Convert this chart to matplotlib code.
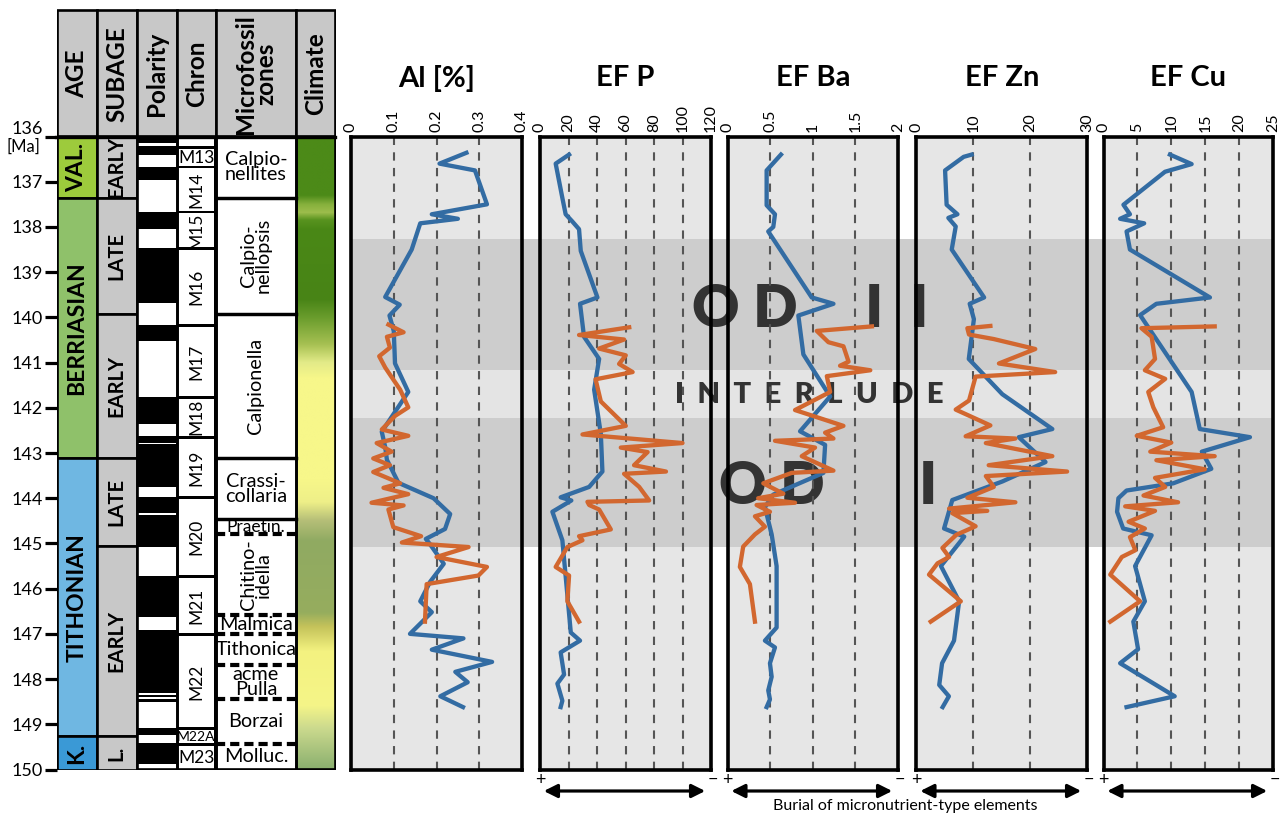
import matplotlib
matplotlib.use('Agg')
import matplotlib.pyplot as plt
import numpy as np
from matplotlib.patches import Rectangle, FancyArrowPatch
from matplotlib.colors import to_rgb

plt.rcParams['font.family'] = ['Lato', 'DejaVu Sans']

# ---------------- data ----------------
age_names = ['VAL.', 'BERRIASIAN', 'TITHONIAN', 'K.']
age_bounds = [136.0, 137.35, 143.12, 149.27, 150.0]
age_colors = ['#9dcb3c', '#8fc16a', '#6fb7e2', '#3a99d6']

subage_names = ['EARLY', 'LATE', 'EARLY', 'LATE', 'EARLY', 'L.']
subage_bounds = [136.0, 137.35, 139.93, 143.12, 145.06, 149.27, 150.0]

polarity_black_top = [136.06, 136.22, 136.67, 137.66, 138.47, 140.17, 141.76, 142.63, 142.81, 143.97,
                      144.37, 145.72, 146.92, 148.356, 148.45, 149.09, 149.42]
polarity_black_bot = [136.14, 136.41, 136.96, 138.05, 139.68, 140.52, 142.35, 142.78, 143.76, 144.33,
                      145.07, 146.62, 148.305, 148.393, 148.504, 149.24, 149.87]

chron_names = ['', 'M13', 'M14', 'M15', 'M16', 'M17', 'M18', 'M19', 'M20', 'M21', 'M22', 'M22A', 'M23']
chron_top = [136.05, 136.28, 136.70, 137.70, 138.52, 140.22, 141.80, 142.68, 144.02, 145.77, 147.05, 149.13, 149.48]
chron_bot = [136.20, 136.66, 137.64, 138.45, 140.15, 141.74, 142.62, 143.96, 145.70, 146.98, 149.07, 149.42, 150.0]
chron_rot = [0, 0, 90, 90, 90, 90, 90, 90, 90, 90, 90, 0, 0]

zone_names = ['Calpio-\nnellites', 'Calpio-\nnellopsis', 'Calpionella', 'Crassi-\ncollaria', 'Praetin.',
              'Chitino-\nidella', 'Malmica', 'Tithonica', 'acme\nPulla', 'Borzai', 'Molluc.']
zone_bounds = [136.0, 137.35, 139.93, 143.12, 144.47, 144.80, 146.58, 147.0, 147.68, 148.43, 149.44, 150.0]
zone_rot = [0, 90, 90, 0, 0, 90, 0, 0, 0, 0, 0]
zone_dashed = [144.80, 146.58, 147.0, 147.68, 148.43, 149.44]

climate_ma = [136.0, 137.3, 137.5, 137.68, 137.85, 138.05, 139.6, 140.0, 140.6, 141.0, 141.35,
              143.6, 144.1, 144.5, 144.95, 146.55, 146.85, 147.4, 148.6, 149.1, 150.0]
climate_col = ['#4c8a18', '#4c8a18', '#86b03c', '#9dbd4c', '#58931f', '#4a8816', '#488416', '#699c2c',
               '#a6c052', '#e2ea88', '#f7f78a', '#f7f78a', '#eeef88', '#b6bf78', '#90aa62', '#96ad5e',
               '#c4c25a', '#f3f280', '#f5f588', '#ccda8e', '#8bb06f']

od_bands = [(138.27, 141.17), (142.22, 145.07)]
interlude_band = (141.17, 142.22)

al_blue_ma = [136.36, 136.6, 136.75, 137.5, 137.72, 137.82, 137.92, 138.5, 139.55, 139.72, 139.96, 140.3,
              141.02, 141.65, 142.53, 142.87, 143.15, 143.66, 144.0, 144.35, 144.68, 144.9, 145.02,
              145.45, 145.85, 146.28, 146.52, 147.0, 147.1, 147.35, 147.62, 147.84, 148.07, 148.38, 148.62]
al_blue_val = [0.27, 0.207, 0.29, 0.318, 0.189, 0.25, 0.162, 0.142, 0.08, 0.114, 0.09, 0.1,
               0.103, 0.134, 0.072, 0.08, 0.084, 0.111, 0.193, 0.232, 0.22, 0.175, 0.185,
               0.217, 0.185, 0.162, 0.189, 0.138, 0.263, 0.189, 0.33, 0.244, 0.273, 0.209, 0.262]
al_or_ma = [140.16, 140.33, 140.43, 140.67, 140.86, 141.11, 141.6, 141.99, 142.18, 142.48, 142.62, 142.78,
            142.97, 143.12, 143.27, 143.42, 143.67, 143.77, 143.91, 144.1, 144.16, 144.25, 144.64, 144.84,
            144.98, 145.08, 145.3, 145.52, 145.71, 145.9, 146.73]
al_or_val = [0.0875, 0.123, 0.084, 0.091, 0.066, 0.08, 0.115, 0.134, 0.103, 0.072, 0.134, 0.06,
             0.095, 0.052, 0.091, 0.052, 0.115, 0.076, 0.134, 0.048, 0.123, 0.0875, 0.099, 0.164,
             0.119, 0.275, 0.2, 0.318, 0.298, 0.177, 0.173]

p_blue_ma = [136.4, 136.6, 137.36, 137.72, 137.88, 138.05, 138.53, 139.56, 139.7, 140.43, 140.92, 141.6,
             142.58, 143.41, 143.75, 143.98, 144.05, 144.3, 144.93, 146.97, 147.15, 147.41, 147.9, 148.1,
             148.48, 148.62]
p_blue_val = [20.4, 11, 15.7, 18, 22.7, 27.4, 28.6, 40.3, 28.1, 30.9, 41.5, 38,
              42.7, 43.8, 34.5, 14.5, 22, 8.7, 15.7, 21.6, 28.1, 14.5, 16.9, 12.2,
              15.7, 14.5]
p_or_ma = [140.22, 140.39, 140.49, 140.69, 140.84, 141.03, 141.21, 141.37, 141.86, 142.4, 142.59, 142.78,
           142.88, 142.98, 143.27, 143.41, 143.46, 143.75, 144.05, 144.08, 144.15, 144.25, 144.69, 144.84,
           144.93, 145.08, 145.52, 145.71, 146.28, 146.73]
p_or_val = [62.6, 27.4, 59, 41.5, 60.2, 55.5, 65, 39, 42.7, 60.2, 29.8, 100,
            56.7, 75.5, 66, 88.4, 59, 69.6, 76.6, 33.3, 34.5, 41.5, 49.7, 27.4,
            29.8, 19.2, 11, 20.4, 19.2, 27.4]

ba_blue_ma = [136.4, 136.75, 137.52, 137.72, 138.0, 138.1, 139.56, 139.7, 139.96, 140.82, 141.75, 142.52,
              142.82, 143.44, 143.92, 144.2, 144.8, 145.5, 146.86, 147.15, 147.3, 147.65, 147.95, 148.25,
              148.45, 148.62]
ba_blue_val = [0.627, 0.459, 0.459, 0.557, 0.537, 0.478, 0.988, 1.243, 0.831, 0.89, 1.204, 0.851,
               1.145, 1.125, 0.537, 0.439, 0.518, 0.576, 0.576, 0.439, 0.557, 0.498, 0.518, 0.478,
               0.498, 0.459]
ba_or_ma = [140.2, 140.3, 140.55, 140.64, 140.98, 141.07, 141.17, 141.3, 141.65, 142.05, 142.4, 142.55,
            142.68, 142.73, 142.88, 143.07, 143.39, 143.44, 143.67, 143.9, 144.0, 144.1, 144.15, 144.3,
            144.4, 144.63, 144.8, 145.07, 145.52, 145.9, 146.73]
ba_or_val = [1.694, 1.047, 1.184, 1.36, 1.42, 1.32, 1.675, 1.165, 1.204, 0.792, 1.36, 1.145,
             1.243, 0.557, 1.027, 0.871, 1.243, 0.753, 0.42, 0.655, 0.36, 0.792, 0.341, 0.498,
             0.322, 0.439, 0.322, 0.184, 0.145, 0.263, 0.322]

zn_blue_ma = [136.4, 136.45, 136.75, 137.51, 137.72, 137.8, 137.99, 138.5, 139.56, 139.7, 140.04, 140.92,
              141.7, 142.47, 142.65, 143.2, 143.63, 144.04, 144.67, 144.85, 145.5, 146.28, 147.15, 147.65,
              148.13, 148.38, 148.62]
zn_blue_val = [9.7, 8.3, 5.03, 5.3, 7.2, 5.6, 6.9, 6.2, 11.9, 9.36, 10.1, 9.2,
               15.1, 23.9, 18.0, 22.7, 15.1, 6.3, 4.85, 8.4, 4.3, 7.5, 6.6, 4.5,
               4.0, 5.7, 4.6]
zn_or_ma = [140.19, 140.24, 140.38, 140.48, 140.7, 141.02, 141.21, 141.31, 141.84, 142.04, 142.39, 142.63,
            142.68, 142.78, 143.07, 143.27, 143.41, 143.51, 143.75, 143.99, 144.09, 144.23, 144.28, 144.33,
            144.62, 144.81, 145.1, 145.3, 145.44, 145.69, 146.28, 146.73]
zn_or_val = [13.0, 8.95, 9.24, 13.6, 20.9, 14.5, 24.4, 10.4, 9.24, 6.9, 13.0, 8.65,
             17.4, 12.2, 23.9, 12.7, 26.5, 12.2, 13.6, 8.95, 17.4, 5.73, 12.45, 6.3,
             10.4, 7.0, 4.56, 5.73, 3.7, 2.2, 7.8, 2.5]

cu_blue_ma = [136.4, 136.61, 136.78, 137.51, 137.72, 137.82, 137.92, 138.1, 138.5, 139.56, 139.7, 139.95,
              141.65, 142.47, 142.65, 142.97, 143.35, 143.67, 143.83, 144.0, 144.3, 144.67, 144.82, 145.5,
              146.28, 146.73, 147.34, 147.65, 148.38, 148.62]
cu_blue_val = [9.8, 13.0, 9.07, 2.94, 3.9, 2.45, 6.0, 3.4, 3.9, 15.7, 7.8, 5.4,
               13.0, 14.2, 21.6, 14.5, 15.9, 10.3, 3.4, 2.2, 2.0, 2.9, 7.1, 4.66,
               6.1, 4.4, 5.1, 2.45, 10.5, 3.4]
cu_or_ma = [140.2, 140.24, 140.43, 140.92, 141.17, 141.36, 141.65, 141.99, 142.43, 142.62, 142.77, 142.97,
            143.07, 143.16, 143.36, 143.55, 143.75, 143.94, 144.09, 144.18, 144.28, 144.52, 144.67, 144.86,
            145.15, 145.3, 145.69, 146.28, 146.73]
cu_or_val = [16.4, 5.6, 7.1, 7.6, 6.1, 9.1, 6.6, 7.35, 8.8, 4.9, 10.0, 6.9,
             16.4, 7.8, 14.95, 7.6, 9.1, 5.9, 11.0, 3.2, 7.6, 3.7, 6.1, 3.9,
             4.7, 2.7, 1.0, 5.4, 1.0]

panel_titles = ['Al [%]', 'EF P', 'EF Ba', 'EF Zn', 'EF Cu']
panel_max = [0.4, 120, 2, 30, 25]
panel_ticks = [[0, 0.1, 0.2, 0.3, 0.4], [0, 20, 40, 60, 80, 100, 120], [0, 0.5, 1, 1.5, 2],
               [0, 10, 20, 30], [0, 5, 10, 15, 20, 25]]
panel_ticklabels = [['0', '0.1', '0.2', '0.3', '0.4'], ['0', '20', '40', '60', '80', '100', '120'],
                    ['0', '0.5', '1', '1.5', '2'], ['0', '10', '20', '30'], ['0', '5', '10', '15', '20', '25']]
blue_series = [(al_blue_ma, al_blue_val), (p_blue_ma, p_blue_val), (ba_blue_ma, ba_blue_val),
               (zn_blue_ma, zn_blue_val), (cu_blue_ma, cu_blue_val)]
orange_series = [(al_or_ma, al_or_val), (p_or_ma, p_or_val), (ba_or_ma, ba_or_val),
                 (zn_or_ma, zn_or_val), (cu_or_ma, cu_or_val)]

# ---------------- layout helpers ----------------
W, H = 1288, 819
fig = plt.figure(figsize=(W / 100, H / 100), dpi=100)

def px_axes(x0, y0, x1, y1):
    return fig.add_axes([x0 / W, 1 - y1 / H, (x1 - x0) / W, (y1 - y0) / H])

Y_TOP_PX, Y_BOT_PX = 136.5, 769.5
def ma_at_px(p):
    return 136 + (p - Y_TOP_PX) * 14 / (Y_BOT_PX - Y_TOP_PX)

BLUE = '#336ca3'
ORANGE = '#d2672f'
EDGE_LW = 1.9

# ---------------- stratigraphic column ----------------
cols = [57.3, 96.7, 136.7, 176.7, 216.0, 296.0, 335.5]
ma_head = ma_at_px(9)
ax = px_axes(cols[0], 9, cols[-1], Y_BOT_PX)
ax.set_zorder(0)

# climate gradient
yy = np.linspace(136, 150, 600)
rgb = np.array([to_rgb(c) for c in climate_col])
grad = np.stack([np.interp(yy, climate_ma, rgb[:, k]) for k in range(3)], axis=-1)[:, None, :]
ax.imshow(grad, extent=[cols[5], cols[6], 150, 136], aspect='auto', interpolation='bilinear', zorder=1)

ax.set_xlim(cols[0], cols[-1])
ax.set_ylim(150, ma_head)
for s in ax.spines.values():
    s.set_visible(False)
ax.set_xticks([])
ax.set_yticks(range(136, 151))
ax.tick_params(axis='y', length=8.6, width=2.3, labelsize=13, pad=2)
ax.get_yticklabels()[0].set_verticalalignment('bottom')
fig.text(23 / W, 1 - 147 / H, '[Ma]', ha='center', va='center', fontsize=12)

def rect(x0, x1, m0, m1, fc, ec='black', lw=EDGE_LW, z=2):
    ax.add_patch(Rectangle((x0, m0), x1 - x0, m1 - m0, facecolor=fc, edgecolor=ec, lw=lw, zorder=z))

# header
headers = ['AGE', 'SUBAGE', 'Polarity', 'Chron', 'Microfossil\nzones', 'Climate']
for i, h in enumerate(headers):
    rect(cols[i], cols[i + 1], ma_head + 0.03, 136, '#c8c8c8')
    ax.text((cols[i] + cols[i + 1]) / 2, (ma_head + 136) / 2 + 0.02, h, rotation=90, ha='center',
            va='center', fontsize=17.5, fontweight='bold', linespacing=0.85, zorder=5)

# ages
for i, n in enumerate(age_names):
    rect(cols[0], cols[1], age_bounds[i], age_bounds[i + 1], age_colors[i])
    ax.text((cols[0] + cols[1]) / 2, (age_bounds[i] + age_bounds[i + 1]) / 2, n, rotation=90,
            ha='center', va='center', fontsize=16.5, fontweight='bold', zorder=5)

# subages
for i, n in enumerate(subage_names):
    rect(cols[1], cols[2], subage_bounds[i], subage_bounds[i + 1], '#c8c8c8')
    ax.text((cols[1] + cols[2]) / 2, (subage_bounds[i] + subage_bounds[i + 1]) / 2, n, rotation=90,
            ha='center', va='center', fontsize=14.5, fontweight='bold', zorder=5)

# polarity
rect(cols[2], cols[3], 136, 150, 'white', lw=0)
for t, b in zip(polarity_black_top, polarity_black_bot):
    ax.add_patch(Rectangle((cols[2], t), cols[3] - cols[2], b - t, facecolor='black', lw=0, zorder=3))
rect(cols[2], cols[3], 136, 150, 'none', z=4)

# chron
rect(cols[3], cols[4], 136, 150, 'black', lw=0)
for n, t, b, r in zip(chron_names, chron_top, chron_bot, chron_rot):
    ax.add_patch(Rectangle((cols[3] + 1.6, t), cols[4] - cols[3] - 3.2, b - t, facecolor='white',
                           lw=0, zorder=3))
    if n:
        fs = 10 if n == 'M22A' else 12.5
        ax.text((cols[3] + cols[4]) / 2, (t + b) / 2, n, rotation=r, ha='center', va='center',
                fontsize=fs, zorder=5)
rect(cols[3], cols[4], 136, 150, 'none', z=4)

# microfossil zones
rect(cols[4], cols[5], 136, 150, 'white', lw=0)
for i, n in enumerate(zone_names):
    t, b = zone_bounds[i], zone_bounds[i + 1]
    fs = 12.5 if n == 'Praetin.' else 14.3
    ax.text((cols[4] + cols[5]) / 2, (t + b) / 2, n, rotation=zone_rot[i], ha='center', va='center',
            fontsize=fs, linespacing=0.85, zorder=5)
for bnd in zone_bounds[1:-1]:
    if bnd in zone_dashed:
        ax.plot([cols[4], cols[5]], [bnd, bnd], color='black', lw=3, ls=(0, (2.2, 1.2)), zorder=4)
    else:
        ax.plot([cols[4], cols[5]], [bnd, bnd], color='black', lw=EDGE_LW * 1.3, zorder=4)
rect(cols[4], cols[5], 136, 150, 'none', z=4)

# climate frame
rect(cols[5], cols[6], 136, 150, 'none', z=4)
ax.plot([cols[0] - 1, cols[-1]], [136, 136], color='black', lw=2.4, zorder=6, clip_on=False)

# ---------------- data panels ----------------
panel_x = [(351, 522), (540, 711), (727.5, 898), (916.5, 1087), (1103.5, 1273)]

bg = px_axes(340, Y_TOP_PX, 1288, Y_BOT_PX)
bg.set_zorder(0)
bg.set_xlim(340, 1288)
bg.set_ylim(150, 136)
bg.axis('off')
for x0, x1 in panel_x:
    bg.add_patch(Rectangle((x0, 136), x1 - x0, 14, facecolor='#e6e6e6', lw=0, zorder=1))
for t, b in od_bands:
    bg.add_patch(Rectangle((panel_x[0][0], t), panel_x[-1][1] - panel_x[0][0], b - t,
                           facecolor='#cdcdcd', lw=0, zorder=2))
bg.add_patch(Rectangle((panel_x[0][0], interlude_band[0]), panel_x[-1][1] - panel_x[0][0],
                       interlude_band[1] - interlude_band[0], facecolor='#e4e4e4', lw=0, zorder=2))
bg.text(810, ma_at_px(309), 'O D     I  I', ha='center', va='center', fontsize=42,
        fontweight='heavy', color='#333333', zorder=5)
bg.text(809, ma_at_px(395), 'I  N  T  E  R  L  U  D  E', ha='center', va='center', fontsize=21,
        fontweight='heavy', color='#333333', zorder=5)
bg.text(828, ma_at_px(486), 'O D       I', ha='center', va='center', fontsize=42,
        fontweight='heavy', color='#333333', zorder=5)

for i, (x0, x1) in enumerate(panel_x):
    pa = px_axes(x0, Y_TOP_PX, x1, Y_BOT_PX)
    pa.set_zorder(1)
    pa.patch.set_alpha(0)
    pa.set_xlim(0, panel_max[i])
    pa.set_ylim(150, 136)
    pa.set_yticks([])
    pa.xaxis.tick_top()
    pa.set_xticks(panel_ticks[i])
    pa.set_xticklabels(panel_ticklabels[i], rotation=90, fontsize=11.5)
    pa.tick_params(axis='x', length=0, pad=3)
    for tk in panel_ticks[i][1:-1]:
        pa.axvline(tk, color='#555555', lw=1.5, ls=(0, (4, 3.5)), zorder=1)
    for s in pa.spines.values():
        s.set_linewidth(2.6)
        s.set_color('black')
    bm, bv = blue_series[i]
    pa.plot(bv, bm, color=BLUE, lw=3.1, solid_joinstyle='round', zorder=3)
    om, ov = orange_series[i]
    pa.plot(ov, om, color=ORANGE, lw=3.1, solid_joinstyle='round', zorder=4)
    pa.set_title(panel_titles[i], fontsize=21, fontweight='bold', pad=36)

# burial arrows
def fxy(x, y):
    return (x / W, 1 - y / H)

for x0, x1 in panel_x[1:]:
    fig.text(x0 / W, 1 - 780 / H, '+', ha='center', va='center', fontsize=13)
    fig.text((x1 + 2) / W, 1 - 780 / H, '\u2212', ha='center', va='center', fontsize=13)
    arr = FancyArrowPatch(fxy(x0 + 1, 791), fxy(x1 - 3, 791), transform=fig.transFigure,
                          arrowstyle='<|-|>,head_length=0.8,head_width=0.4', mutation_scale=10,
                          lw=2.3, color='black')
    fig.add_artist(arr)
fig.text(905 / W, 1 - 806 / H, 'Burial of micronutrient-type elements', ha='center', va='center',
         fontsize=11.5)

fig.savefig('out.png', dpi=100)
